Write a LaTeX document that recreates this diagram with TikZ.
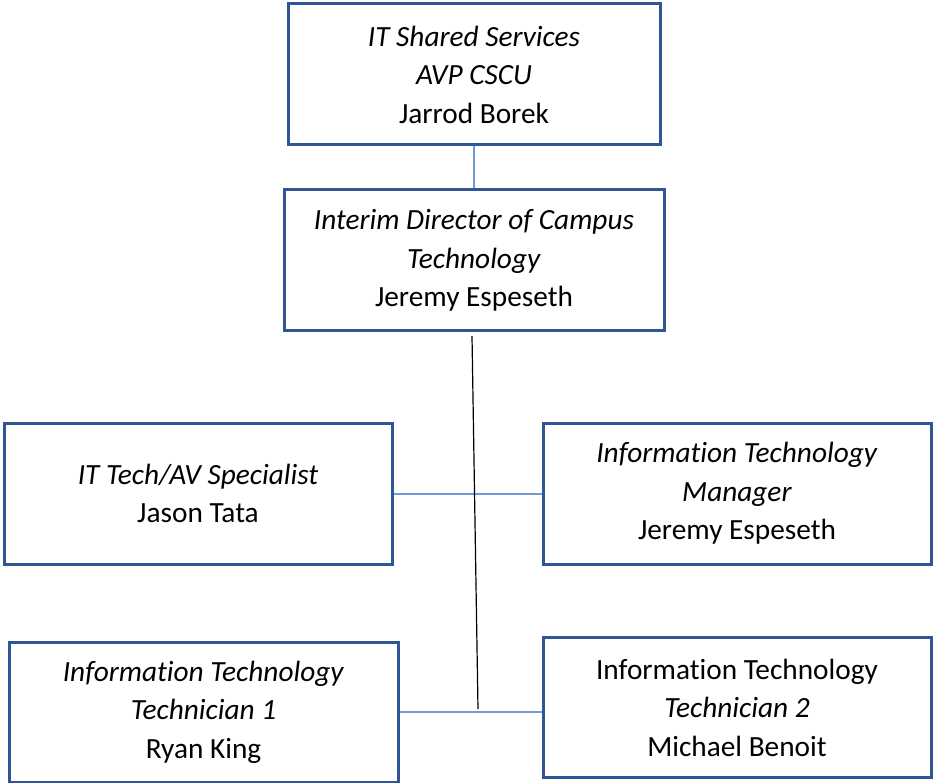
\documentclass[tikz,border=0pt]{standalone}
\usepackage{fontspec}
\setmainfont{Carlito}[Ligatures={NoCommon}]
\definecolor{boxblue}{HTML}{2F5597}
\definecolor{linkblue}{HTML}{7399DA}
\begin{document}
\begin{tikzpicture}[x=1pt,y=1pt,
  orgbox/.style={draw=boxblue, line width=3pt, minimum height=141pt, align=center, inner sep=0pt, font=\fontsize{29.3}{38.5}\selectfont},
  link/.style={draw=linkblue, line width=2pt},
  spine/.style={draw=black, line width=1.2pt}]
\useasboundingbox (0,0) rectangle (934,-783);
\node[orgbox, minimum width=372pt] (avp) at (474,-74.5) {\textit{IT Shared Services}\\\textit{AVP CSCU}\\Jarrod Borek};
\node[orgbox, minimum width=380pt] (dir) at (474,-260.5) {\textit{Interim Director of Campus}\\\textit{Technology}\\Jeremy Espeseth};
\node[orgbox, minimum width=388pt] (av) at (198,-493.5) {\textit{IT Tech/AV Specialist}\\Jason Tata};
\node[orgbox, minimum width=388pt] (mgr) at (737,-493.5) {\textit{Information Technology}\\\textit{Manager}\\Jeremy Espeseth};
\node[orgbox, minimum width=389pt, minimum height=140pt] (t1) at (203.5,-712) {\textit{Information Technology}\\\textit{Technician 1}\\Ryan King};
\node[orgbox, minimum width=388pt, minimum height=140pt] (t2) at (737,-707.5) {Information Technology\\\textit{Technician 2}\\Michael Benoit};
\coordinate (vtop) at (472,-336);
\coordinate (vbot) at (478,-709);
\draw[link] (avp.south) -- (dir.north);
\draw[link] (av.east) -- (av.east -| mgr.west);
\draw[link] (t1.east) -- (t1.east -| t2.west);
\draw[spine] (vtop) -- (vbot);
\end{tikzpicture}
\end{document}
